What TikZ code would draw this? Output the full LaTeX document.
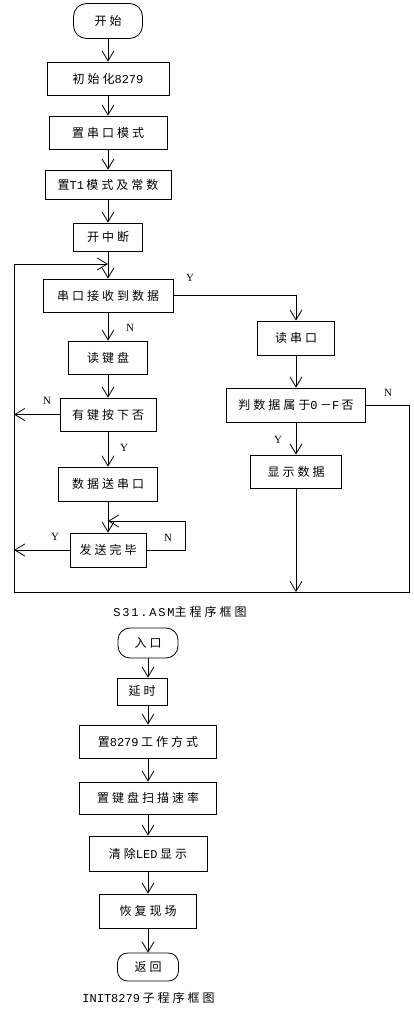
\documentclass[tikz,border=0pt]{standalone}
\usepackage{fontspec}
\usetikzlibrary{arrows.meta,positioning}
\newfontfamily\cjk[LetterSpace=25]{Noto Sans CJK SC}
\newfontfamily\latmono{Liberation Mono}
\newfontfamily\capmono[LetterSpace=15]{Liberation Mono}
\newfontfamily\ynfont{Liberation Serif}
\newcommand\lat[1]{{\latmono #1}\hspace{2.5pt}}

\begin{document}
\begin{tikzpicture}[x=1pt,y=1pt,line width=0.8pt,
  >={Straight Barb[length=10pt,width=12pt]},
  font=\cjk\fontsize{12}{14}\selectfont,
  box/.style={draw,rectangle,inner sep=2pt,minimum height=33pt},
  term/.style={draw,rectangle,rounded corners=12pt,inner sep=2pt},
  lbl/.style={font=\ynfont\fontsize{11}{13}\selectfont,inner sep=0pt}]
  \useasboundingbox (0,0) rectangle (413,-1011);

  \node[term,minimum width=69pt,minimum height=35pt,rounded corners=13pt] (start) at (108,-21) {开始};
  \node[box,minimum width=122pt]				(init)		[below of=start,node distance=57.5pt]	{初始化\lat{8279}};
  \node[box,minimum width=118pt]				(serial)	[below of=init,node distance=54pt]	{置串口模式};
  \node[box,minimum width=126pt,minimum height=29pt]	(tone)		[below of=serial,node distance=52pt]	{置\lat{T1}模式及常数};
  \node[box,minimum width=69pt,minimum height=28pt]	(intr)		[below of=tone,node distance=52.5pt]	{开中断};
  \node[box,minimum width=130pt]				(recv)		[below of=intr,node distance=58.5pt]	{串口接收到数据};
  \node[box,minimum width=79pt]				(readkey)	[below of=recv,node distance=62pt]	{读键盘};
  \node[box,minimum width=96pt]				(keydown)	[below of=readkey,node distance=57pt]	{有键按下否};
  \node[box,minimum width=99pt,minimum height=34pt]	(sendbuf)	[below of=keydown,node distance=69.5pt]	{数据送串口};
  \node[box,minimum width=76pt,minimum height=34pt]	(done)		[below of=sendbuf,node distance=66pt]	{发送完毕};

  \node[box,minimum width=77pt,minimum height=34pt]	(readser)	at (296,-338)				{读串口};
  \node[box,minimum width=139pt,minimum height=34pt]	(check)		[below of=readser,node distance=67pt]	{判数据属于\lat{0}－\lat{F}否};
  \node[box,minimum width=91pt]				(show)		[below of=check,node distance=66.5pt]	{显示数据};

  \coordinate (lt) at (14,-264);
  \coordinate (lb) at (14,-592);
  \coordinate (rb) at (409,-592);
  \coordinate (join) at (108,-264);
  \coordinate (wait) at (185,-521);
  \coordinate (back) at (108,-521);

  \path[->]	(start) edge (init)
		(init) edge (serial)
		(serial) edge (tone)
		(tone) edge (intr)
		(intr) edge (recv)
		(recv) edge (readkey)
		(readkey) edge (keydown)
		(keydown) edge (sendbuf)
		(sendbuf) edge (done)
		(readser) edge (check)
		(check) edge (show);
  \draw[->] (check.east) -| (rb) -- (lb) -- (lt) -- (join);
  \draw[->] (show) -- (show |- rb);
  \draw[->] (recv.east) -| (readser);
  \draw[->] (keydown.west) -- (keydown.west -| lt);
  \draw[->] (done.west) -- (done.west -| lt);
  \draw[->] (done.east) -| (wait) -- (back);

  \node[lbl] (y1) at (190,-278) {Y};
  \node[lbl] (n1) at (130,-328) {N};
  \node[lbl] (n2) at (47,-401)  {N};
  \node[lbl] (y2) at (124,-448) {Y};
  \node[lbl] (y3) at (55,-537)  {Y};
  \node[lbl] (n3) at (168,-538) {N};
  \node[lbl] (n4) at (388,-393) {N};
  \node[lbl] (y4) at (278,-440) {Y};

  \node (cap1) at (180,-612) {{\capmono S31.ASM}主程序框图};

  \node[term,minimum width=60pt,minimum height=30pt]	(entry)		at (148,-643)				{入口};
  \node[box,minimum width=50pt,minimum height=27pt]	(delay)		at (142,-691.5)				{延时};
  \node[box,minimum width=137pt]				(set8279)	at (148,-741.5)				{置\lat{8279}工作方式};
  \node[box,minimum width=137pt,minimum height=32pt]	(scan)		[below of=set8279,node distance=56.5pt]	{置键盘扫描速率};
  \node[box,minimum width=118pt,minimum height=35pt]	(clear)		[below of=scan,node distance=55.5pt]	{清除\lat{LED}显示};
  \node[box,minimum width=97pt,minimum height=34pt]	(restore)	[below of=clear,node distance=57.5pt]	{恢复现场};
  \node[term,minimum width=61pt,minimum height=28pt,rounded corners=10pt] (ret) [below of=restore,node distance=56pt] {返回};

  \draw[->] (entry) -- (entry |- delay.north);
  \draw[->] (delay.south -| entry) -- (set8279);
  \path[->]	(set8279) edge (scan)
		(scan) edge (clear)
		(clear) edge (restore)
		(restore) edge (ret);

  \node (cap2) at (148.5,-998) {\lat{INIT8279}子程序框图};
\end{tikzpicture}
\end{document}
